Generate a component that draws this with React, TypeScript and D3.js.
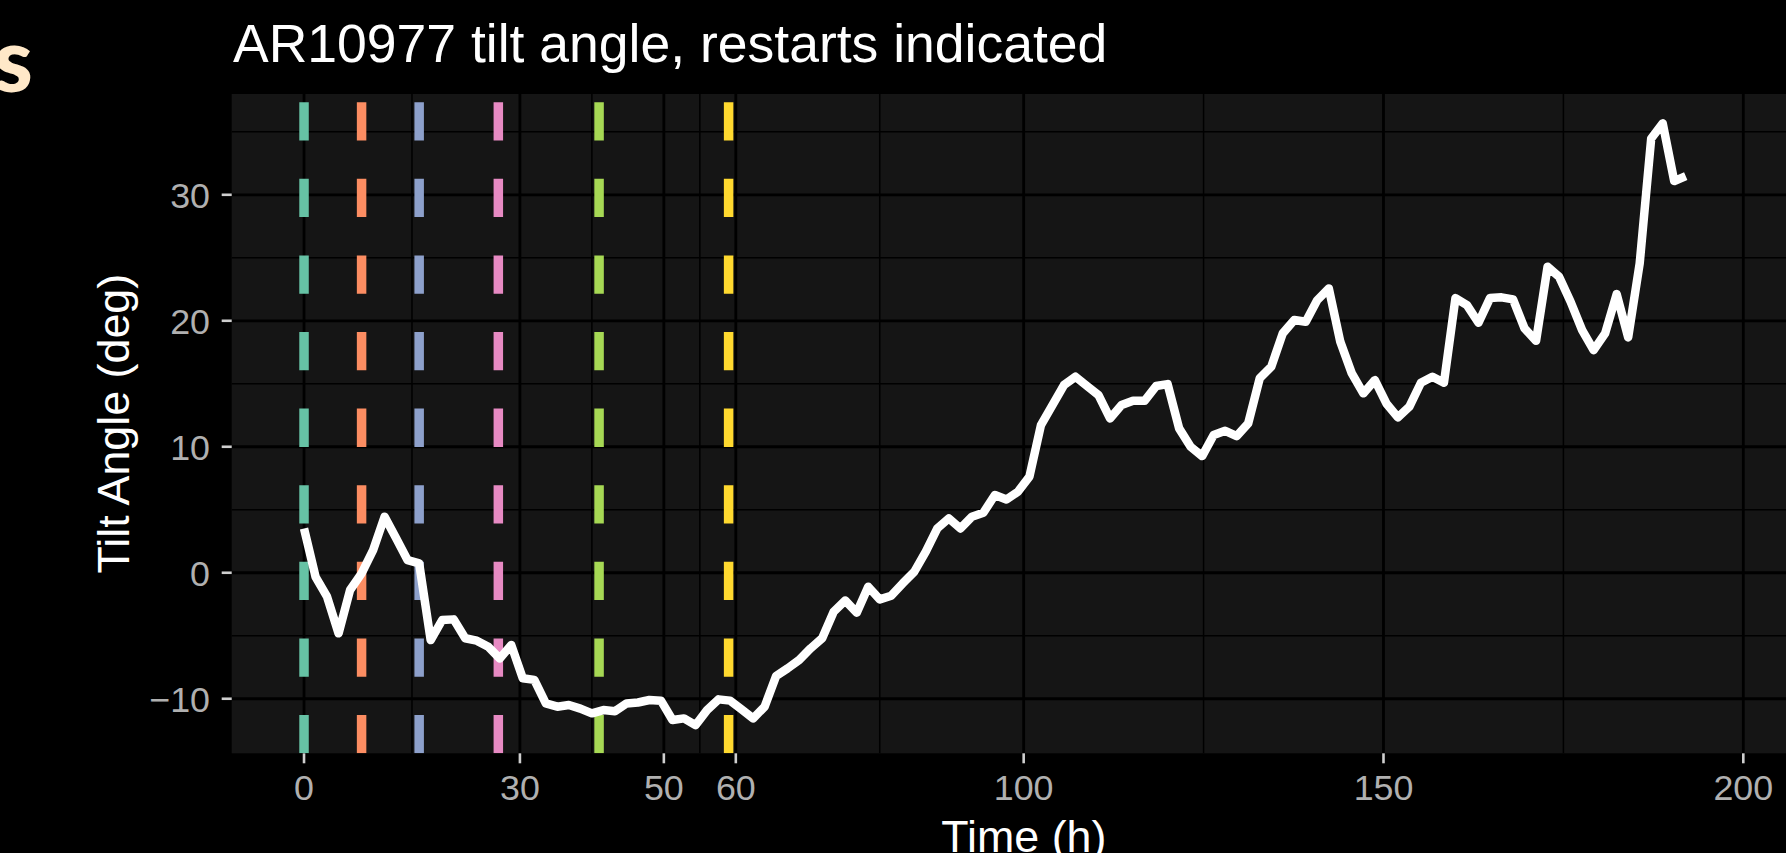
import React from "react";
import * as d3 from "d3";

const TITLE = "AR10977 tilt angle, restarts indicated";
const X_LABEL = "Time (h)";
const Y_LABEL = "Tilt Angle (deg)";

const TIME_H = [
  0, 1.6, 3.2, 4.8, 6.4, 8.0, 9.6, 11.2, 12.8, 14.4,
  16.0, 17.6, 19.2, 20.8, 22.4, 24.0, 25.6, 27.2, 28.8, 30.4,
  32.0, 33.6, 35.2, 36.8, 38.4, 40.0, 41.6, 43.2, 44.8, 46.4,
  48.0, 49.6, 51.2, 52.8, 54.4, 56.0, 57.6, 59.2, 60.8, 62.4,
  64.0, 65.6, 67.2, 68.8, 70.4, 72.0, 73.6, 75.2, 76.8, 78.4,
  80.0, 81.6, 83.2, 84.8, 86.4, 88.0, 89.6, 91.2, 92.8, 94.4,
  96.0, 97.6, 99.2, 100.8, 102.4, 104.0, 105.6, 107.2, 108.8, 110.4,
  112.0, 113.6, 115.2, 116.8, 118.4, 120.0, 121.6, 123.2, 124.8, 126.4,
  128.0, 129.6, 131.2, 132.8, 134.4, 136.0, 137.6, 139.2, 140.8, 142.4,
  144.0, 145.6, 147.2, 148.8, 150.4, 152.0, 153.6, 155.2, 156.8, 158.4,
  160.0, 161.6, 163.2, 164.8, 166.4, 168.0, 169.6, 171.2, 172.8, 174.4,
  176.0, 177.6, 179.2, 180.8, 182.4, 184.0, 185.6, 187.2, 188.8, 190.4,
  192.0,
];

const TILT_DEG = [
  3.52, -0.32, -1.9, -4.81, -1.37, -0.05, 1.8, 4.45, 2.73, 1.0,
  0.74, -5.34, -3.75, -3.7, -5.2, -5.39, -5.87, -6.8, -5.74, -8.38,
  -8.5, -10.37, -10.63, -10.5, -10.78, -11.16, -10.9, -11.0, -10.37, -10.3,
  -10.1, -10.15, -11.69, -11.56, -12.1, -10.9, -10.05, -10.15, -10.84, -11.56,
  -10.63, -8.2, -7.59, -6.93, -6.0, -5.2, -3.1, -2.2, -3.17, -1.11,
  -2.11, -1.82, -0.84, 0.08, 1.67, 3.52, 4.32, 3.52, 4.45, 4.76,
  6.17, 5.82, 6.43, 7.63, 11.72, 13.31, 14.9, 15.56, 14.82, 14.1,
  12.25, 13.31, 13.65, 13.65, 14.82, 14.97, 11.46, 10.0, 9.26, 10.93,
  11.27, 10.85, 11.86, 15.43, 16.35, 19.0, 20.06, 19.92, 21.64, 22.57,
  18.33, 15.82, 14.24, 15.29, 13.44, 12.33, 13.18, 15.08, 15.56, 15.08,
  21.8, 21.24, 19.84, 21.8, 21.86, 21.7, 19.4, 18.41, 24.29, 23.5,
  21.51, 19.26, 17.67, 19.0, 22.12, 18.68, 24.55, 34.47, 35.67, 31.09,
  31.48,
];

const RESTARTS_H = [0, 8, 16, 27, 41, 59];
const RESTART_COLORS = ["#66c2a5", "#fc8d62", "#8da0cb", "#e78ac3", "#a6d854", "#ffd92f"];

const X_TICKS = [0, 30, 50, 60, 100, 150, 200];
const X_MINOR = [15, 40, 55, 80, 125, 175];
const Y_TICKS = [-10, 0, 10, 20, 30];
const Y_MINOR = [-5, 5, 15, 25, 35];

const W = 1786;
const H = 853;
const PANEL = { left: 231.7, right: 1816, top: 94, bottom: 753.3 };
const FONT = "'Liberation Sans', Arial, Helvetica, sans-serif";

const fmt = (v: number) => (v < 0 ? "\u2212" + Math.abs(v) : String(v));

export default function App() {
  React.useEffect(() => {
    document.body.style.margin = "0";
    document.body.style.background = "#000";
  }, []);

  const x = d3.scaleLinear().domain([-10.05, 210.1]).range([PANEL.left, PANEL.right]);
  const y = d3.scaleLinear().domain([-14.33, 38.0]).range([PANEL.bottom, PANEL.top]);

  const data = TIME_H.map((t, i) => [t, TILT_DEG[i]] as [number, number]);
  const line = d3
    .line<[number, number]>()
    .x((d) => x(d[0]))
    .y((d) => y(d[1]));

  const pw = PANEL.right - PANEL.left;
  const ph = PANEL.bottom - PANEL.top;

  return (
    <svg
      width={W}
      height={H}
      viewBox={`0 0 ${W} ${H}`}
      style={{ position: "absolute", left: 0, top: 0, display: "block" }}
    >
      <defs>
        <clipPath id="panel-clip">
          <rect x={PANEL.left} y={PANEL.top} width={pw} height={ph} />
        </clipPath>
      </defs>
      <rect x={0} y={0} width={W} height={H} fill="#000" />

      <text
        x={33}
        y={92}
        textAnchor="end"
        fill="#ffe8c8"
        fontFamily="Lato, 'Noto Sans', sans-serif"
        fontWeight={900}
        fontStyle="normal"
        fontSize={89}
      >
        s
      </text>

      <text x={233} y={62} fill="#fff" fontFamily={FONT} fontSize={53.5}>
        {TITLE}
      </text>

      <rect x={PANEL.left} y={PANEL.top} width={pw} height={ph} fill="#151515" />

      <g clipPath="url(#panel-clip)">
        {Y_MINOR.map((v) => (
          <line key={"ym" + v} x1={PANEL.left} x2={PANEL.right} y1={y(v)} y2={y(v)} stroke="#000" strokeWidth={1.5} />
        ))}
        {X_MINOR.map((v) => (
          <line key={"xm" + v} x1={x(v)} x2={x(v)} y1={PANEL.top} y2={PANEL.bottom} stroke="#000" strokeWidth={1.5} />
        ))}
        {Y_TICKS.map((v) => (
          <line key={"yg" + v} x1={PANEL.left} x2={PANEL.right} y1={y(v)} y2={y(v)} stroke="#000" strokeWidth={2.8} />
        ))}
        {X_TICKS.map((v) => (
          <line key={"xg" + v} x1={x(v)} x2={x(v)} y1={PANEL.top} y2={PANEL.bottom} stroke="#000" strokeWidth={2.8} />
        ))}

        {RESTARTS_H.map((t, i) => (
          <line
            key={"r" + i}
            x1={x(t)}
            x2={x(t)}
            y1={PANEL.bottom}
            y2={PANEL.top}
            stroke={RESTART_COLORS[i]}
            strokeWidth={9.5}
            strokeDasharray="38.3 38.3"
          />
        ))}

        <path
          d={line(data) || ""}
          fill="none"
          stroke="#fff"
          strokeWidth={8.5}
          strokeLinejoin="round"
          strokeLinecap="butt"
        />
      </g>

      {Y_TICKS.map((v) => (
        <g key={"yt" + v}>
          <line x1={PANEL.left - 10} x2={PANEL.left} y1={y(v)} y2={y(v)} stroke="#cfcfcf" strokeWidth={2.6} />
          <text
            x={210}
            y={y(v) + 12.8}
            textAnchor="end"
            fill="#b0b0b0"
            fontFamily={FONT}
            fontSize={35.8}
          >
            {fmt(v)}
          </text>
        </g>
      ))}

      {X_TICKS.map((v) => (
        <g key={"xt" + v}>
          <line x1={x(v)} x2={x(v)} y1={PANEL.bottom} y2={PANEL.bottom + 10} stroke="#cfcfcf" strokeWidth={2.6} />
          <text x={x(v)} y={799.5} textAnchor="middle" fill="#b0b0b0" fontFamily={FONT} fontSize={35.8}>
            {fmt(v)}
          </text>
        </g>
      ))}

      <text
        x={(PANEL.left + PANEL.right) / 2}
        y={852}
        textAnchor="middle"
        fill="#fff"
        fontFamily={FONT}
        fontSize={44.8}
      >
        {X_LABEL}
      </text>

      <text
        transform={`translate(129, ${(PANEL.top + PANEL.bottom) / 2}) rotate(-90)`}
        textAnchor="middle"
        fill="#fff"
        fontFamily={FONT}
        fontSize={44.8}
      >
        {Y_LABEL}
      </text>
    </svg>
  );
}
